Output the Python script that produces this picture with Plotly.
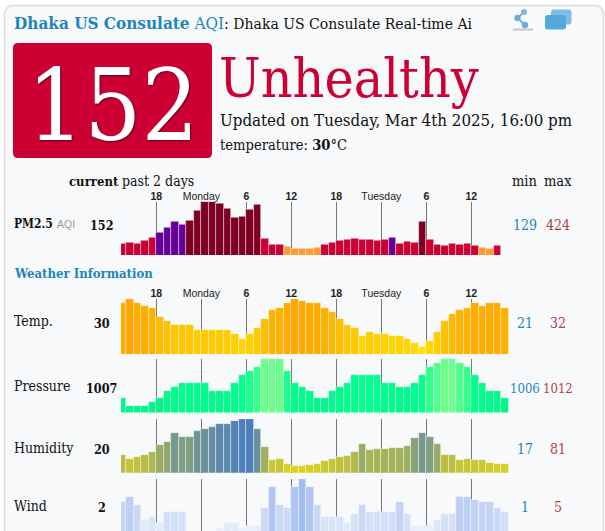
import plotly.graph_objects as go

W, H = 605, 531
SERIF = "DejaVu Serif Condensed, DejaVu Serif, serif"
SANS = "Liberation Sans, Arial, sans-serif"

hours = [13, 14, 15, 16, 17, 18, 19, 20, 21, 22, 23, 24, 25, 26, 27, 28, 29, 30, 31, 32, 33, 34, 35, 36, 37, 38,
         39, 40, 41, 42, 43, 44, 45, 46, 47, 48, 49, 50, 51, 52, 53, 54, 55, 56, 57, 58, 59, 60, 61, 62, 63, 64]
tick_hours = [18, 24, 30, 36, 42, 48, 54, 60]
tick_labels = ["<b>18</b>", "Monday", "<b>6</b>", "<b>12</b>", "<b>18</b>", "Tuesday", "<b>6</b>", "<b>12</b>"]

pm25 = [161, 171, 165, 182, 197, 233, 261, 299, 282, 303, 367, 424, 424, 414, 378, 322, 331, 375, 407, 192, 154, 154,
        141, 133, 129, 129, 135, 156, 169, 182, 186, 192, 190, 186, 182, 190, 201, 165, 175, 171, 301, 184, 158, 152,
        165, 156, 165, 152, 139, 133, 152]
temp = [31, 32, 31, 30.5, 30, 28, 27, 26, 26, 26, 25, 25, 25, 25, 25, 24, 23, 24, 25.5, 27.5, 29.5, 30, 31, 32, 31.5, 31,
        31, 30, 29, 27.5, 26, 25.5, 23.5, 24.5, 24, 24, 23.5, 23.5, 23, 22, 21, 22.5, 24.5, 27, 28.5, 29.5, 30, 31, 30.5,
        31, 31, 30]
pressure = [1007, 1006, 1006, 1006, 1006.5, 1007, 1008, 1008.5, 1009, 1009, 1009, 1009, 1008, 1008, 1008, 1009, 1010,
            1010.5, 1011, 1012, 1012, 1012, 1010.5, 1009, 1008.5, 1008, 1007, 1007, 1008, 1008.5, 1009, 1010, 1010, 1010,
            1010, 1009, 1009, 1008.5, 1008.5, 1009, 1010, 1011, 1011.5, 1012, 1012, 1011.5, 1011, 1010, 1009, 1008, 1008,
            1007]
humidity = [33, 27, 30, 33, 37, 46, 50, 62, 57, 57, 65, 67, 70, 74, 74, 78, 81, 81, 68, 43, 25, 27, 19.5, 17, 17, 19,
            20, 24, 27, 30, 31, 36, 47, 39, 41, 41, 42, 42, 44, 55, 62, 57, 47, 32, 32, 26, 27, 25, 25, 22, 20, 20]
wind = [2.9, 3.4, 2.6, 1.25, 1.5, 1, 2, 2, 2, 0.2, 0.2, 0.2, 0.2, 0.5, 1, 1, 0.5, 0.7, 0.7, 2.4, 4.25, 2.6, 2.4, 4.25, 5,
        4.25, 2.6, 1.55, 1.55, 1.55, 1, 1.85, 2.6, 2, 2, 2, 2, 2.9, 1.85, 0.7, 0.7, 0.7, 1.25, 1.85, 1.85, 3.4, 3.4, 3.1,
        2.9, 2.9, 2.4, 2]


def aqi_colour(v):
    if v <= 150:
        return "#ff9933"
    if v <= 200:
        return "#cc0033"
    if v <= 300:
        return "#660099"
    return "#7e0023"


def X(p):
    return p / W


def Y(p):
    return 1 - p / H


rows = [
    dict(v=pm25, top=201.7, bot=255, yr=[91.6, 424], labels=True,
         marker=dict(color=[aqi_colour(v) for v in pm25])),
    dict(v=temp, top=299, bot=354, yr=[19.5, 32], labels=True,
         marker=dict(color=temp, cmin=21, cmax=32, colorscale=[[0, "#ffe000"], [1, "#ffa600"]])),
    dict(v=pressure, top=359, bot=412.6, yr=[1005.2, 1012], labels=False,
         marker=dict(color=pressure, cmin=1006, cmax=1012,
                     colorscale=[[0, "#00f58a"], [0.67, "#00ff8c"], [1, "#6cff8c"]])),
    dict(v=humidity, top=419, bot=472.7, yr=[8.4, 81], labels=False,
         marker=dict(color=humidity, cmin=17, cmax=81, colorscale=[[0, "#dcd21e"], [1, "#4c7fbc"]])),
    dict(v=wind, top=479, bot=531, yr=[0.27, 5], labels=False,
         marker=dict(color=wind, cmin=0.7, cmax=5, colorscale=[[0, "#e8eefb"], [1, "#a3bcf0"]])),
]

fig = go.Figure()
layout = {}
for i, r in enumerate(rows):
    n = "" if i == 0 else str(i + 1)
    fig.add_trace(go.Bar(x=hours[:len(r["v"])], y=r["v"], xaxis="x" + n, yaxis="y" + n, width=1, offset=0,
                         marker=dict(line=dict(width=0.7, color="rgba(247,249,250,0.6)"), **r["marker"]),
                         hoverinfo="skip"))
    layout["xaxis" + n] = dict(domain=[X(121), X(508.5)], range=[13.29, 64.96], anchor="y" + n, side="top",
                               tickmode="array", tickvals=tick_hours,
                               ticktext=tick_labels if r["labels"] else [""] * len(tick_hours),
                               showgrid=True, gridcolor="#777777", gridwidth=1, zeroline=False, showline=False,
                               ticks="", tickfont=dict(family=SANS, size=10.5, color="#222222"), tickangle=0,
                               ticklabelstandoff=-1)
    layout["yaxis" + n] = dict(domain=[Y(r["bot"]), Y(r["top"])], range=r["yr"], anchor="x" + n, visible=False)


def text(px, py, s, size=13, color="#111111", anchor="left", family=SERIF, **font):
    return dict(xref="paper", yref="paper", x=X(px), y=Y(py), text=s, showarrow=False, xanchor=anchor, yanchor="middle",
                xshift=0, yshift=0, borderpad=0, font=dict(family=family, size=size, color=color, **font))


BLUE = "#1f84bd"
RED = "#b5403f"
ann = [
    text(13, 23, "<b>Dhaka US Consulate</b> AQI<span style='color:#111111;font-size:15.6px'>: Dhaka US Consulate "
                 "Real-time Ai</span>", 17, BLUE),
    text(112.5, 105, "152", 100, "#ffffff", "center", shadow="1px 1px 2px #600018"),
    text(218, 78, "Unhealthy", 55, "#cc0033"),
    text(218.5, 120, "Updated on Tuesday, Mar 4th 2025, 16:00 pm", 16.8),
    text(218.5, 145, "temperature: <b>30</b>°C", 14.6),
    text(120, 181, "<b>current</b>", 13, anchor="right"),
    text(120.5, 181, "past 2 days", 14),
    text(525, 181, "min", 14.5, anchor="center"),
    text(558, 181, "max", 14.5, anchor="center"),
    text(13, 224, "<b>PM2.5</b>", 12),
    text(56, 224, "AQI", 10.5, "#999999", family=SANS),
    text(12.5, 273, "<b>Weather Information</b>", 13, BLUE),
    text(13, 321, "Temp.", 14),
    text(13, 386, "Pressure", 14),
    text(13, 448, "Humidity", 14),
    text(13, 506, "Wind", 14),
]
for y, cur, lo, hi, sz in [(225, "152", "129", "424", 14), (323, "30", "21", "32", 14),
                           (388, "1007", "1006", "1012", 13), (449, "20", "17", "81", 14), (507, "2", "1", "5", 14)]:
    ann += [text(102, y, f"<b>{cur}</b>", 12.5, anchor="center"),
            text(525, y, lo, sz, BLUE, "center"),
            text(558, y, hi, sz, RED, "center")]


def rrect(x0, y0, x1, y1, r, **kw):
    path = (f"M {X(x0 + r)} {Y(y0)} L {X(x1 - r)} {Y(y0)} Q {X(x1)} {Y(y0)} {X(x1)} {Y(y0 + r)} "
            f"L {X(x1)} {Y(y1 - r)} Q {X(x1)} {Y(y1)} {X(x1 - r)} {Y(y1)} L {X(x0 + r)} {Y(y1)} "
            f"Q {X(x0)} {Y(y1)} {X(x0)} {Y(y1 - r)} L {X(x0)} {Y(y0 + r)} Q {X(x0)} {Y(y0)} {X(x0 + r)} {Y(y0)} Z")
    return dict(type="path", xref="paper", yref="paper", path=path, layer="below", **kw)


def dot(cx, cy, r, color):
    return dict(type="circle", xref="paper", yref="paper", x0=X(cx - r), x1=X(cx + r), y0=Y(cy + r), y1=Y(cy - r),
                fillcolor=color, line=dict(width=0), layer="above")


def seg(x0, y0, x1, y1, color, width):
    return dict(type="line", xref="paper", yref="paper", x0=X(x0), x1=X(x1), y0=Y(y0), y1=Y(y1),
                line=dict(color=color, width=width), layer="above")


shapes = [
    rrect(4.5, 5.5, 603.5, 545, 10, fillcolor="#f7f9fa", line=dict(color="#dddddd", width=1.5)),
    rrect(13, 43, 212, 158, 5, fillcolor="#cc0033", line=dict(width=0)),
    rrect(551, 9.5, 571.5, 24.5, 3, fillcolor="#7dbde2", line=dict(width=0)),
    rrect(545, 15, 566, 29.5, 3, fillcolor="#55a8da", line=dict(width=0)),
    seg(513, 29.5, 533, 29.5, "#c4c8cc", 2),
    seg(524, 12, 517.5, 18, "#4f9fcf", 1.5),
    seg(517.5, 18, 525, 25, "#4f9fcf", 1.5),
    dot(524, 12, 3, "#7db8dc"),
    dot(517.5, 18, 3.2, "#6aaed8"),
    dot(525, 25, 3.2, "#6aaed8"),
]

fig.update_layout(width=W, height=H, margin=dict(l=0, r=0, t=0, b=0), autosize=False, showlegend=False,
                  paper_bgcolor="#ffffff", plot_bgcolor="rgba(0,0,0,0)", bargap=0,
                  annotations=ann, shapes=shapes, **layout)
fig.write_html("out.html", config=dict(displayModeBar=False),
               post_script="document.body.style.margin='0';document.body.style.overflow='hidden';")
